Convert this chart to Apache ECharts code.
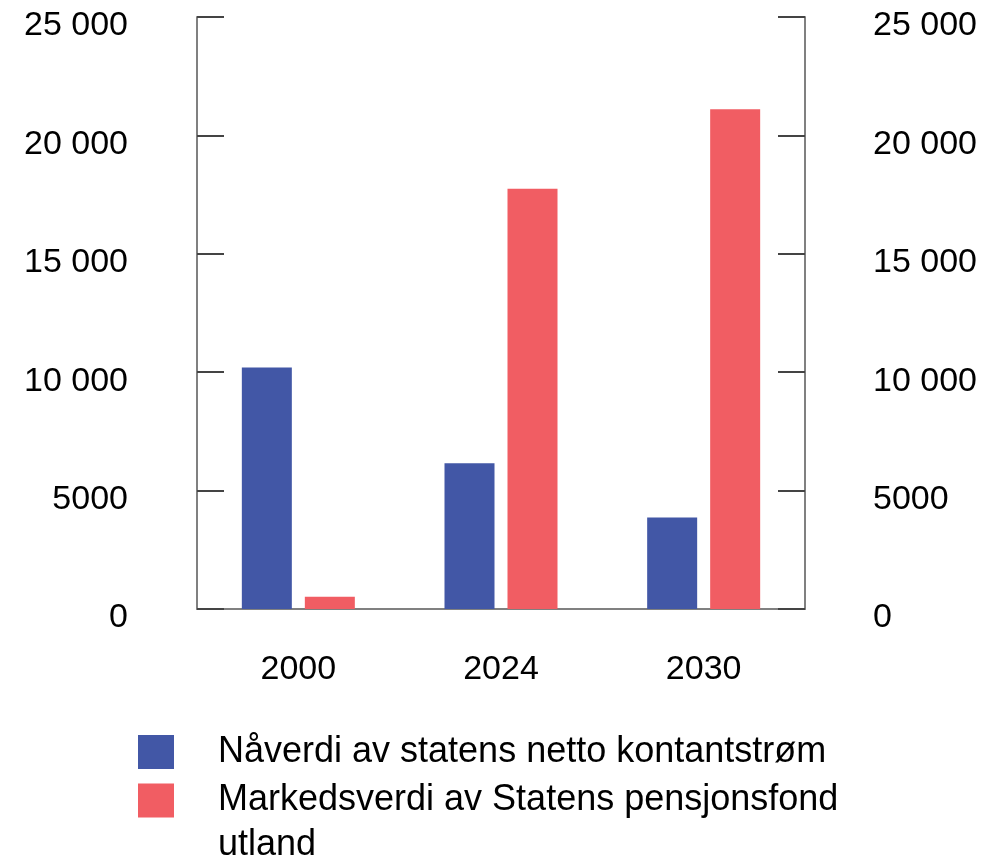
<!DOCTYPE html>
<html>
<head>
<meta charset="utf-8">
<script src="https://cdn.jsdelivr.net/npm/echarts@6/dist/echarts.min.js"></script>
<style>html,body{margin:0;padding:0;background:#fff;}#c{width:989px;height:858px;}</style>
</head>
<body>
<div id="c"></div>
<script>
const categories = ['2000', '2024', '2030'];
const seriesNames = ['Nåverdi av statens netto kontantstrøm', 'Markedsverdi av Statens pensjonsfond utland'];
const naverdi = [10200, 6160, 3860];
const markedsverdi = [520, 17750, 21100];
const yTicks = [0, 5000, 10000, 15000, 20000, 25000];

const FONT = 'Liberation Sans';
const fmt = v => v >= 10000 ? String(v).replace(/\B(?=(\d{3})+(?!\d))/g, ' ') : String(v);

const chart = echarts.init(document.getElementById('c'));
const yCommon = {
  type: 'value', min: yTicks[0], max: yTicks[yTicks.length - 1], interval: 5000,
  splitLine: { show: false },
  axisLine: { show: true, lineStyle: { color: '#808080', width: 2 } },
  axisTick: { show: true, inside: true, length: 27, lineStyle: { color: '#444', width: 2 } },
};
chart.setOption({
  animation: false,
  textStyle: { fontFamily: FONT },
  grid: { left: 197, right: 184, top: 17, bottom: 249 },
  xAxis: {
    type: 'category', data: categories,
    axisLine: { lineStyle: { color: '#808080', width: 2 } },
    axisTick: { show: false },
    axisLabel: { color: '#000', fontSize: 34, fontFamily: FONT, margin: 44 }
  },
  yAxis: [
    Object.assign({}, yCommon, {
      position: 'left',
      axisLabel: { color: '#000', fontSize: 34, fontFamily: FONT, margin: 69, formatter: fmt, verticalAlign: 'top', lineHeight: 18 }
    }),
    Object.assign({}, yCommon, {
      position: 'right',
      axisLabel: { color: '#000', fontSize: 34, fontFamily: FONT, margin: 68, formatter: fmt, verticalAlign: 'top', lineHeight: 18 }
    })
  ],
  legend: [
    {
      orient: 'vertical', left: 138, top: 734, padding: 0, itemWidth: 36, itemHeight: 34, icon: 'rect',
      data: [{ name: seriesNames[0] }],
      textStyle: { fontSize: 36, fontFamily: FONT, color: '#000', lineHeight: 34, padding: [0, 0, 0, 39] },
      selectedMode: false
    },
    {
      orient: 'vertical', left: 138, top: 733, padding: 0, itemWidth: 36, itemHeight: 34, icon: 'rect',
      data: [{ name: seriesNames[1] }],
      formatter: n => '\n' + n.replace(' utland', '\nutland'),
      textStyle: { fontSize: 36, fontFamily: FONT, color: '#000', lineHeight: 45, padding: [0, 0, 0, 39] },
      selectedMode: false
    }
  ],
  series: [
    { name: seriesNames[0], type: 'bar', data: naverdi, barWidth: 50, barGap: '26%', itemStyle: { color: '#4257a6' } },
    { name: seriesNames[1], type: 'bar', data: markedsverdi, barWidth: 50, itemStyle: { color: '#f15d63' } }
  ]
});
</script>
</body>
</html>
